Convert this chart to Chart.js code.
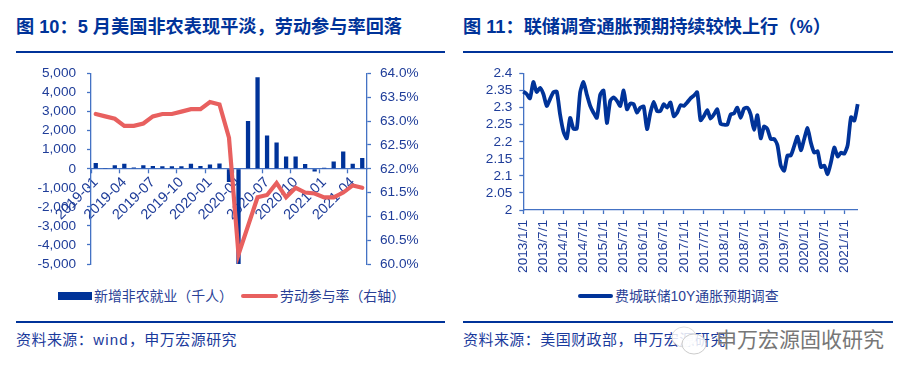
<!DOCTYPE html>
<html><head><meta charset="utf-8">
<script src="https://cdn.jsdelivr.net/npm/chart.js@4"></script>
<style>
html,body{margin:0;padding:0;background:#fff;width:913px;height:380px;overflow:hidden}
body{position:relative;font-family:"Liberation Sans","Noto Sans CJK SC",sans-serif;color:#1f3d99}
.abs{position:absolute;white-space:nowrap}
.title{font:bold 18.2px "Liberation Sans","Noto Sans CJK SC",sans-serif;color:#003399;top:15px;line-height:24px}
.rule{height:2.4px;background:#003399}
.src{font-size:15px;letter-spacing:.45px;top:330px;line-height:20px;color:#1a3a9c}
.leg{font-size:13.9px;top:287px;line-height:18px;color:#2a3f96}
canvas{position:absolute}
</style></head><body>
<div class="abs title" style="left:16px">图 10：5 月美国非农表现平淡，劳动参与率回落</div>
<div class="abs title" style="left:463px">图 11：联储调查通胀预期持续较快上行（%）</div>
<div class="abs rule" style="left:16px;top:50.5px;width:429px"></div>
<div class="abs rule" style="left:463px;top:50.5px;width:430px"></div>
<div class="abs rule" style="left:16px;top:320.7px;width:429px"></div>
<div class="abs rule" style="left:463px;top:320.7px;width:430px"></div>
<canvas id="c1" style="left:0;top:60px" width="456" height="225"></canvas>
<canvas id="c2" style="left:456px;top:60px" width="457" height="225"></canvas>
<div class="abs" style="left:58px;top:292px;width:34px;height:8px;background:#003399"></div>
<div class="abs leg" style="left:94px">新增非农就业（千人）</div>
<div class="abs" style="left:241px;top:294px;width:37px;height:4px;background:#E8605F;border-radius:2px"></div>
<div class="abs leg" style="left:280px">劳动参与率（右轴）</div>
<div class="abs" style="left:578px;top:294px;width:35px;height:4px;background:#003399;border-radius:2px"></div>
<div class="abs leg" style="left:615px">费城联储10Y通胀预期调查</div>
<div class="abs src" style="left:16px">资料来源：<span style="letter-spacing:1.2px">wind</span>，申万宏源研究</div>
<div class="abs src" style="left:463px">资料来源：美国财政部，申万宏源研究</div>
<svg class="abs" style="left:664px;top:322px" width="60" height="36">
<ellipse cx="20" cy="15" rx="12" ry="10" fill="#fff" fill-opacity=".85" stroke="#ddd"/>
<ellipse cx="30" cy="22" rx="12" ry="10" fill="#fff" fill-opacity=".85" stroke="#ccc"/>
</svg>
<div class="abs" style="left:716px;top:327px;font-size:21px;line-height:26px;color:#777;text-shadow:0 0 1px #fff">申万宏源固收研究</div>
<script>
const months = ["2019-01","2019-02","2019-03","2019-04","2019-05","2019-06","2019-07","2019-08","2019-09","2019-10","2019-11","2019-12","2020-01","2020-02","2020-03","2020-04","2020-05","2020-06","2020-07","2020-08","2020-09","2020-10","2020-11","2020-12","2021-01","2021-02","2021-03","2021-04","2021-05"];
const payrolls = [300,40,190,263,72,190,150,130,130,130,260,140,220,270,-700,-5000,2510,4800,1745,1380,645,645,245,-140,50,385,900,260,560];
const participation = [63.15,63.1,63.05,62.9,62.9,62.95,63.1,63.15,63.15,63.2,63.25,63.25,63.4,63.35,62.65,60.2,60.8,61.4,61.45,61.7,61.4,61.6,61.5,61.48,61.4,61.4,61.5,61.65,61.6];
const surveyYears = [2013,2014,2015,2016,2017,2018,2019,2020,2021];
const inflationExpect = [2.347,2.34,2.327,2.375,2.346,2.358,2.34,2.305,2.325,2.345,2.347,2.28,2.23,2.21,2.27,2.238,2.238,2.345,2.375,2.338,2.305,2.285,2.27,2.338,2.35,2.255,2.32,2.33,2.32,2.305,2.35,2.295,2.312,2.31,2.285,2.3,2.303,2.237,2.285,2.317,2.29,2.29,2.31,2.3,2.315,2.275,2.285,2.307,2.305,2.315,2.327,2.335,2.345,2.263,2.275,2.293,2.268,2.28,2.295,2.253,2.25,2.25,2.28,2.283,2.3,2.27,2.297,2.3,2.28,2.235,2.278,2.21,2.245,2.237,2.208,2.208,2.19,2.13,2.115,2.16,2.16,2.187,2.215,2.175,2.208,2.24,2.197,2.168,2.172,2.126,2.13,2.105,2.14,2.183,2.157,2.168,2.165,2.19,2.272,2.262,2.31];
const surveyLabels = inflationExpect.map((_, i) => surveyYears[Math.floor(i/12)] + "/" + (i%12+1) + "/1");

const BLUE="#003399", RED="#E8605F", AXIS="#4472C4", TXT="#1f3d99";
const tickFont={family:'"Liberation Sans",sans-serif',size:13.6};
const noPad=s=>{s.paddingTop=s.paddingBottom=s.paddingLeft=s.paddingRight=0;};
Chart.defaults.animation=false;
Chart.defaults.responsive=false;

new Chart(document.getElementById("c1"),{
  data:{labels:months,datasets:[
    {type:"line",label:"劳动参与率（右轴）",data:participation,yAxisID:"yR",borderColor:RED,borderWidth:4.2,pointRadius:0,tension:0,borderCapStyle:"round",order:1},
    {type:"bar",label:"新增非农就业（千人）",data:payrolls,yAxisID:"yL",backgroundColor:BLUE,barPercentage:.45,categoryPercentage:1,order:2}
  ]},
  options:{
    layout:{padding:{top:13.5,bottom:21,left:0,right:0}},
    plugins:{legend:{display:false},tooltip:{enabled:false}},
    scales:{
      x:{position:{yL:0},axis:"x",offset:true,
        afterFit:noPad,
        border:{color:AXIS,width:1.3},
        grid:{offset:true,drawOnChartArea:false,tickLength:4,
              tickColor:c=>(c.index%3===0?AXIS:"rgba(0,0,0,0)"),tickWidth:1.3},
        ticks:{autoSkip:false,minRotation:45,maxRotation:45,padding:1,color:TXT,font:{...tickFont,size:14.5},
               callback(v,i){return i%3===0?this.getLabelForValue(v):"";}}},
      yL:{position:"left",min:-5000,max:5000,
        afterFit(s){noPad(s);s.width=91;},
        border:{color:AXIS,width:1.3},
        grid:{drawOnChartArea:false,tickLength:4,tickColor:AXIS,tickWidth:1.3},
        ticks:{autoSkip:false,stepSize:1000,padding:11,color:TXT,font:tickFont,callback:v=>v.toLocaleString("en-US")}},
      yR:{position:"right",min:60,max:64,
        afterFit(s){noPad(s);s.width=89;},
        border:{color:AXIS,width:1.3},
        grid:{drawOnChartArea:false,tickLength:4,tickColor:AXIS,tickWidth:1.3},
        ticks:{autoSkip:false,stepSize:.5,padding:9,color:TXT,font:tickFont,callback:v=>v.toFixed(1)+"%"}}
    }
  }
});

new Chart(document.getElementById("c2"),{
  type:"line",
  data:{labels:surveyLabels,datasets:[
    {label:"费城联储10Y通胀预期调查",data:inflationExpect,borderColor:BLUE,borderWidth:3.8,pointRadius:0,tension:.2,clip:false}
  ]},
  options:{
    layout:{padding:{top:13.5,bottom:0,left:0,right:55.3}},
    plugins:{legend:{display:false},tooltip:{enabled:false}},
    scales:{
      x:{offset:false,
        afterFit(s){noPad(s);s.height=75;},
        border:{color:AXIS,width:1.3},
        grid:{drawOnChartArea:false,tickLength:4,
              tickColor:c=>(c.index%6===0?AXIS:"rgba(0,0,0,0)"),tickWidth:1.3},
        ticks:{autoSkip:false,minRotation:90,maxRotation:90,padding:6,color:TXT,font:tickFont,
               callback(v,i){return i%6===0?this.getLabelForValue(v):"";}}},
      y:{min:2,max:2.4,
        afterFit(s){noPad(s);s.width=67.3;},
        border:{color:AXIS,width:1.3},
        grid:{drawOnChartArea:false,tickLength:4,tickColor:AXIS,tickWidth:1.3},
        ticks:{autoSkip:false,stepSize:.05,padding:7,color:TXT,font:tickFont,callback:v=>String(+v.toFixed(2))}}
    }
  }
});
</script>
</body></html>
